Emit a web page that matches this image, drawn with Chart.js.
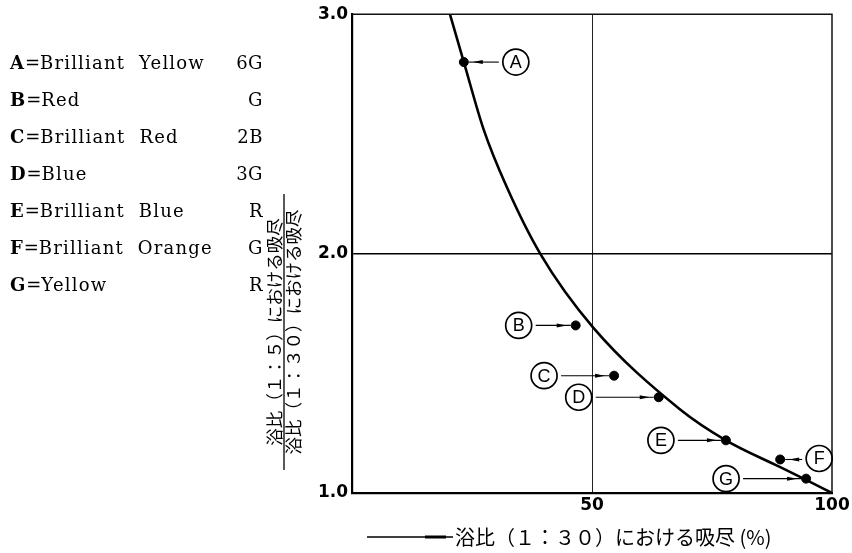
<!DOCTYPE html>
<html>
<head>
<meta charset="utf-8">
<script src="https://cdn.jsdelivr.net/npm/chart.js@4/dist/chart.umd.min.js"></script>
<style>
  html, body { margin: 0; padding: 0; background: #fff; }
  #wrap { width: 852px; height: 553px; }
</style>
</head>
<body>
<div id="wrap"><canvas id="exhaustChart" width="852" height="553"></canvas></div>
<script>
// Dyes
const dyeLetters = ['A', 'B', 'C', 'D', 'E', 'F', 'G'];
const dyeNames = ['Brilliant  Yellow', 'Red', 'Brilliant  Red', 'Blue', 'Brilliant  Blue', 'Brilliant  Orange', 'Yellow'];
const dyeCodes = ['6G', 'G', '2B', '3G', 'R', 'G', 'R'];

// exhaustion at 1:30 (%) and ratio of exhaustion 1:5 / 1:30
const exhaust30 = [23.3, 46.6, 54.6, 63.9, 77.9, 89.2, 94.6];
const exhaustRatio = [2.80, 1.70, 1.49, 1.40, 1.22, 1.14, 1.06];

// reference curve
const curveX = [20.4, 23.3, 27.4, 32.2, 39.2, 50.3, 68.3, 77.9, 89.0, 94.6, 100];
const curveY = [3.0, 2.80, 2.52, 2.28, 2.0, 1.69, 1.35, 1.22, 1.11, 1.055, 1.0];

// axis ticks
const xTicks = [0, 50, 100];
const yTicks = [1.0, 2.0, 3.0];

// circle label offsets from each dot (px)
const calloutOffsets = [[52, 0], [-57, 0], [-70, 0], [-80, 0], [-65, 0], [39, -1], [-80, 0]];

const annotate = {
  id: 'annotate',
  afterDatasetsDraw(chart) {
    const { ctx, chartArea: a, scales: { x, y } } = chart;
    ctx.save();
    // top / right frame
    ctx.strokeStyle = '#111';
    ctx.lineWidth = 1.5;
    ctx.beginPath();
    ctx.moveTo(a.left, a.top);
    ctx.lineTo(a.right, a.top);
    ctx.lineTo(a.right, a.bottom);
    ctx.stroke();

    // circled letters with arrows
    exhaust30.forEach((v, i) => {
      const px = x.getPixelForValue(v);
      const py = y.getPixelForValue(exhaustRatio[i]);
      const cx = px + calloutOffsets[i][0];
      const cy = py + calloutOffsets[i][1];
      const r = 13;
      ctx.lineWidth = 1.7;
      ctx.strokeStyle = '#000';
      ctx.beginPath();
      ctx.arc(cx, cy, r, 0, Math.PI * 2);
      ctx.stroke();
      ctx.fillStyle = '#000';
      ctx.font = '18px "Liberation Sans"';
      ctx.textAlign = 'center';
      ctx.textBaseline = 'middle';
      ctx.fillText(dyeLetters[i], cx, cy + 1);

      const dir = Math.sign(px - cx);
      const x0 = cx + dir * (r + 4);
      const x1 = px - dir * 5;
      ctx.lineWidth = 1.1;
      ctx.beginPath();
      ctx.moveTo(x0, py);
      ctx.lineTo(x1, py);
      ctx.stroke();
      const tip = px - dir * 9;
      ctx.beginPath();
      ctx.moveTo(tip, py);
      ctx.lineTo(tip - dir * 10, py - 2);
      ctx.lineTo(tip - dir * 10, py + 2);
      ctx.closePath();
      ctx.fill();
    });
    ctx.restore();
  },
  afterDraw(chart) {
    const { ctx } = chart;
    ctx.save();
    ctx.fillStyle = '#000';

    // dye key
    ctx.textBaseline = 'alphabetic';
    dyeLetters.forEach((l, i) => {
      const by = 69 + i * 37;
      ctx.letterSpacing = '0px';
      ctx.textAlign = 'left';
      ctx.font = 'bold 18px "DejaVu Serif"';
      ctx.fillText(l, 10, by);
      const lw = ctx.measureText(l).width;
      ctx.font = '18px "DejaVu Serif"';
      ctx.fillText('=', 10 + lw + 1, by);
      ctx.letterSpacing = '1.2px';
      ctx.fillText(dyeNames[i], 10 + lw + 16, by);
      ctx.letterSpacing = '0.5px';
      ctx.textAlign = 'right';
      ctx.fillText(dyeCodes[i], 263, by);
    });
    ctx.letterSpacing = '0px';

    // y title as a fraction
    ctx.translate(284, 332);
    ctx.rotate(-Math.PI / 2);
    ctx.textAlign = 'center';
    ctx.font = '17.5px "Noto Sans CJK JP"';
    ctx.textBaseline = 'bottom';
    ctx.fillText('浴比（１：５）における吸尽', 0, -1);
    ctx.textBaseline = 'top';
    ctx.fillText('浴比（１：３０）における吸尽', 0, 1);
    ctx.lineWidth = 1.3;
    ctx.beginPath();
    ctx.moveTo(-138, 0);
    ctx.lineTo(138, 0);
    ctx.stroke();
    ctx.setTransform(1, 0, 0, 1, 0, 0);

    // x title with leading line
    ctx.lineWidth = 1.3;
    ctx.beginPath();
    ctx.moveTo(367, 537);
    ctx.lineTo(453, 537);
    ctx.stroke();
    ctx.lineWidth = 3;
    ctx.beginPath();
    ctx.moveTo(425, 537);
    ctx.lineTo(446, 537);
    ctx.stroke();
    ctx.textAlign = 'left';
    ctx.textBaseline = 'middle';
    ctx.font = '20px "Noto Sans CJK JP"';
    ctx.fillText('浴比（１：３０）における吸尽 (%)', 455, 537);
    ctx.restore();
  }
};

const ctx = document.getElementById('exhaustChart').getContext('2d');
const exhaustChart = new Chart(ctx, {
  type: 'scatter',
  data: {
    datasets: [{
      data: curveX.map((v, i) => ({ x: v, y: curveY[i] })),
      showLine: true,
      borderColor: '#000',
      borderWidth: 2.6,
      pointRadius: 0,
      cubicInterpolationMode: 'monotone'
    }, {
      data: exhaust30.map((v, i) => ({ x: v, y: exhaustRatio[i] })),
      backgroundColor: '#000',
      borderColor: '#000',
      pointRadius: 4.5
    }]
  },
  options: {
    responsive: false,
    animation: false,
    layout: { padding: { top: 14, right: 20, left: 0, bottom: 0 } },
    plugins: { legend: { display: false }, tooltip: { enabled: false } },
    scales: {
      x: {
        type: 'linear', min: 0, max: 100,
        afterBuildTicks: s => { s.ticks = xTicks.map(v => ({ value: v })); },
        afterFit: s => { s.height = 60; },
        ticks: {
          callback: v => (v === 0 ? '' : v),
          color: '#000', padding: 2, maxRotation: 0,
          font: { family: 'DejaVu Sans', size: 17, weight: 'bold' }
        },
        grid: {
          color: c => (c.tick && c.tick.value === 50 ? '#222' : 'transparent'),
          lineWidth: 1, drawTicks: false
        },
        border: { display: true, color: '#000', width: 2.2 }
      },
      y: {
        min: 1, max: 3,
        afterBuildTicks: s => { s.ticks = yTicks.map(v => ({ value: v })); },
        afterFit: s => { s.width = 352; },
        ticks: {
          callback: v => v.toFixed(1),
          color: '#000', padding: 4,
          font: { family: 'DejaVu Sans', size: 17, weight: 'bold' }
        },
        grid: {
          color: c => (c.tick && c.tick.value === 2 ? '#000' : 'transparent'),
          lineWidth: 1.4, drawTicks: false
        },
        border: { display: true, color: '#000', width: 2.2 }
      }
    }
  },
  plugins: [annotate]
});
</script>
</body>
</html>
